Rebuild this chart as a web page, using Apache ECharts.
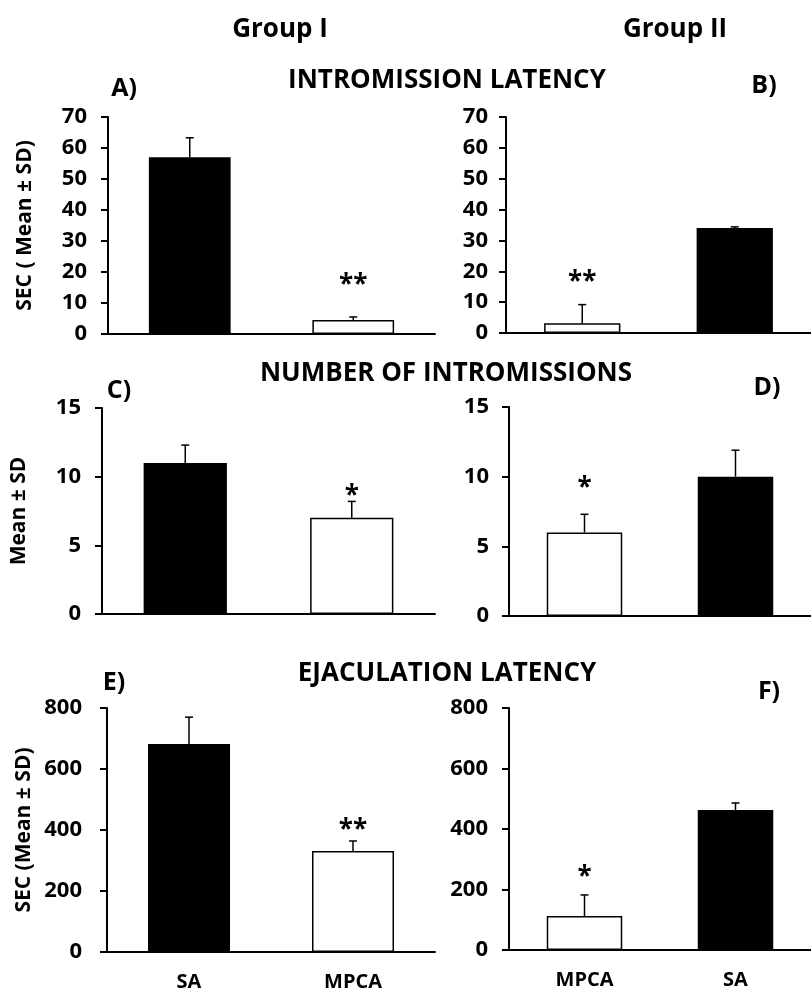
<!DOCTYPE html>
<html>
<head>
<meta charset="utf-8">
<script src="https://cdn.jsdelivr.net/npm/echarts@6/dist/echarts.min.js"></script>
<style>
  html, body { margin: 0; padding: 0; background: #fff; }
  #chart { width: 811px; height: 994px; }
</style>
</head>
<body>
<div id="chart"></div>
<script>
// categories
const groupICats = ['SA', 'MPCA'];
const groupIICats = ['MPCA', 'SA'];

// intromission latency (sec)
const latencyI = [57, 4.5];
const latencyISd = [6.3, 1.0];
const latencyIStars = ['', '**'];
const latencyII = [3.2, 34];
const latencyIISd = [6.0, 0.4];
const latencyIIStars = ['**', ''];

// number of intromissions
const countI = [11, 7];
const countISd = [1.3, 1.2];
const countIStars = ['', '*'];
const countII = [6, 10];
const countIISd = [1.3, 1.9];
const countIIStars = ['*', ''];

// ejaculation latency (sec)
const ejacI = [682, 331];
const ejacISd = [88, 33];
const ejacIStars = ['', '**'];
const ejacII = [112, 463];
const ejacIISd = [70, 23];
const ejacIIStars = ['*', ''];

// tick setup per row
const latencyTicks = { max: 70, interval: 10 };
const countTicks = { max: 15, interval: 5 };
const ejacTicks = { max: 800, interval: 200 };

const FONT = '"Open Sans", Lato, sans-serif';

const panels = [
    { grid: { left: 108, top: 117, width: 327, height: 217 }, cats: groupICats, mean: latencyI, sd: latencyISd, stars: latencyIStars, ticks: latencyTicks, name: 'SEC ( Mean ± SD)', showX: false, starGap: 31, labelMargin: 21 },
    { grid: { left: 506, top: 117, width: 314, height: 216 }, cats: groupIICats, mean: latencyII, sd: latencyIISd, stars: latencyIIStars, ticks: latencyTicks, name: '', showX: false, starGap: 22, labelMargin: 18 },
    { grid: { left: 102, top: 408, width: 333, height: 206 }, cats: groupICats, mean: countI, sd: countISd, stars: countIStars, ticks: countTicks, name: 'Mean ± SD', showX: false, starGap: 5, labelMargin: 21 },
    { grid: { left: 509, top: 407, width: 311, height: 209 }, cats: groupIICats, mean: countII, sd: countIISd, stars: countIIStars, ticks: countTicks, name: '', showX: false, starGap: 26, labelMargin: 20 },
    { grid: { left: 107, top: 708, width: 328, height: 244 }, cats: groupICats, mean: ejacI, sd: ejacISd, stars: ejacIStars, ticks: ejacTicks, name: 'SEC (Mean ± SD)', showX: true, starGap: 10, labelMargin: 25 },
    { grid: { left: 509, top: 708, width: 311, height: 242 }, cats: groupIICats, mean: ejacII, sd: ejacIISd, stars: ejacIIStars, ticks: ejacTicks, name: '', showX: true, starGap: 17, labelMargin: 21 }
];

const chart = echarts.init(document.getElementById('chart'));

const grids = [];
const xAxes = [];
const yAxes = [];
const series = [];

panels.forEach(function (p, i) {
    grids.push(p.grid);
    xAxes.push({
        type: 'category',
        gridIndex: i,
        data: p.cats,
        axisLine: { lineStyle: { color: '#000', width: 2 } },
        axisTick: { show: false },
        axisLabel: { show: p.showX, color: '#000', fontFamily: FONT, fontWeight: 'bold', fontSize: 20, margin: 20 }
    });
    yAxes.push({
        type: 'value',
        gridIndex: i,
        min: 0,
        max: p.ticks.max,
        interval: p.ticks.interval,
        splitLine: { show: false },
        axisLine: { show: true, lineStyle: { color: '#000', width: 2 } },
        axisTick: { show: true, length: 7, lineStyle: { color: '#000', width: 2 } },
        axisLabel: { color: '#000', fontFamily: FONT, fontWeight: 'bold', fontSize: 22, margin: p.labelMargin },
        name: p.name,
        nameLocation: 'middle',
        nameRotate: 90,
        nameGap: 72,
        nameTextStyle: { color: '#000', fontFamily: FONT, fontWeight: 'bold', fontSize: 21 }
    });
    series.push({
        type: 'bar',
        xAxisIndex: i,
        yAxisIndex: i,
        barWidth: '50%',
        data: p.mean.map(function (v, k) {
            return {
                value: v,
                itemStyle: { color: p.cats[k] === 'SA' ? '#000' : '#fff', borderColor: '#000', borderWidth: 1.5 }
            };
        }),
        z: 2
    });
    series.push({
        type: 'custom',
        xAxisIndex: i,
        yAxisIndex: i,
        encode: { x: 0, y: 1 },
        data: p.mean.map(function (v, k) { return [k, v, p.sd[k]]; }),
        renderItem: function (params, api) {
            const k = api.value(0);
            const base = api.coord([k, api.value(1)]);
            const top = api.coord([k, api.value(1) + api.value(2)]);
            const star = p.stars[params.dataIndex];
            const children = [
                { type: 'line', shape: { x1: base[0], y1: base[1], x2: top[0], y2: top[1] }, style: { stroke: '#000', lineWidth: 1.5 } },
                { type: 'line', shape: { x1: top[0] - 4, y1: top[1], x2: top[0] + 4, y2: top[1] }, style: { stroke: '#000', lineWidth: 1.5 } }
            ];
            if (star) {
                children.push({
                    type: 'text',
                    x: top[0],
                    y: top[1] - p.starGap,
                    style: { text: star, fill: '#000', font: 'bold 26px ' + FONT, textAlign: 'center', textVerticalAlign: 'middle' }
                });
            }
            return { type: 'group', children: children };
        },
        z: 3
    });
});

function label(text, x, y, size) {
    return {
        type: 'text',
        x: x,
        y: y,
        style: { text: text, fill: '#000', font: 'bold ' + size + 'px ' + FONT, textAlign: 'center', textVerticalAlign: 'middle' }
    };
}

const option = {
    animation: false,
    backgroundColor: '#fff',
    grid: grids,
    xAxis: xAxes,
    yAxis: yAxes,
    series: series,
    graphic: [
        label('Group I', 280, 30, 26),
        label('Group II', 675, 30, 26),
        label('INTROMISSION LATENCY', 447, 81, 26),
        label('A)', 124, 89, 25),
        label('B)', 764, 86, 25),
        label('NUMBER OF INTROMISSIONS', 446, 374, 26),
        label('C)', 119, 391, 25),
        label('D)', 767, 388, 25),
        label('EJACULATION LATENCY', 447, 674, 26),
        label('E)', 114, 683, 25),
        label('F)', 769, 692, 25)
    ]
};

chart.setOption(option);
</script>
</body>
</html>
